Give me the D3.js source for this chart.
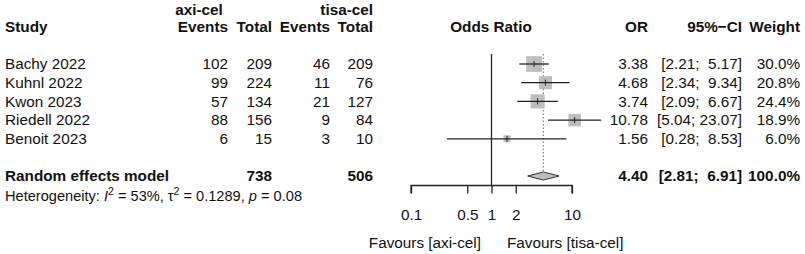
<!DOCTYPE html>
<html>
<head>
<meta charset="utf-8">
<script src="https://cdn.jsdelivr.net/npm/d3@7"></script>
<style>
  body { margin: 0; background: #fff; }
  svg text { font-family: "Liberation Sans", Arial, sans-serif; font-size: 15.3px; fill: #111; white-space: pre; }
</style>
</head>
<body>
<svg width="805" height="254"></svg>
<script>
const studies = ["Bachy 2022", "Kuhnl 2022", "Kwon 2023", "Riedell 2022", "Benoit 2023"];
const axiEvents = [102, 99, 57, 88, 6];
const axiTotal = [209, 224, 134, 156, 15];
const tisaEvents = [46, 11, 21, 9, 3];
const tisaTotal = [209, 76, 127, 84, 10];
const oddsRatio = [3.38, 4.68, 3.74, 10.78, 1.56];
const ciLow = [2.21, 2.34, 2.09, 5.04, 0.28];
const ciHigh = [5.17, 9.34, 6.67, 23.07, 8.53];
const weights = [30.0, 20.8, 24.4, 18.9, 6.0];
const pooled = { label: "Random effects model", axiTotal: 738, tisaTotal: 506, or: 4.40, lo: 2.81, hi: 6.91, weight: 100.0 };
const tickValues = [0.1, 0.5, 1, 2, 10];

const svg = d3.select("svg");

let x = d3.scaleLog().domain([0.1, 10]).range([411, 572]);
let boxSize = d3.scaleSqrt().domain([0, 30]).range([0, 15.7]);
let rowY = d3.scaleLinear().domain([0, 1]).range([64, 82.7]);
const pooledY = 176;
const axisY = 185.5;

let data = studies.map((s, i) => ({
  study: s, ae: axiEvents[i], at: axiTotal[i], te: tisaEvents[i], tt: tisaTotal[i],
  or: oddsRatio[i], lo: ciLow[i], hi: ciHigh[i], w: weights[i]
}));

const fmtCI = (lo, hi) => "[" + lo.toFixed(2).padStart(4) + "; " + hi.toFixed(2).padStart(5) + "]";

function txt(xp, yp, s, anchor, bold) {
  return svg.append("text").attr("x", xp).attr("y", yp).attr("dy", "0.35em")
    .attr("text-anchor", anchor || "start")
    .style("font-weight", bold ? "bold" : "normal")
    .text(s);
}

// headers
txt(199, 9.5, "axi-cel", "middle", true);
txt(373, 9.5, "tisa-cel", "end", true);
txt(5, 27, "Study", "start", true);
txt(228, 27, "Events", "end", true);
txt(272, 27, "Total", "end", true);
txt(330, 27, "Events", "end", true);
txt(373, 27, "Total", "end", true);
txt(491, 27, "Odds Ratio", "middle", true);
txt(648, 27, "OR", "end", true);
txt(742, 27, "95%\u2212CI", "end", true);
txt(800, 27, "Weight", "end", true);

// study rows
let rows = svg.append("g").selectAll("g")
  .data(data)
  .join("g")
  .attr("transform", (d, i) => `translate(0, ${rowY(i)})`);

rows.append("text").attr("x", 5).attr("dy", "0.35em").text(d => d.study);
rows.append("text").attr("x", 228).attr("dy", "0.35em").attr("text-anchor", "end").text(d => d.ae);
rows.append("text").attr("x", 272).attr("dy", "0.35em").attr("text-anchor", "end").text(d => d.at);
rows.append("text").attr("x", 330).attr("dy", "0.35em").attr("text-anchor", "end").text(d => d.te);
rows.append("text").attr("x", 373).attr("dy", "0.35em").attr("text-anchor", "end").text(d => d.tt);
rows.append("text").attr("x", 648).attr("dy", "0.35em").attr("text-anchor", "end").text(d => d.or.toFixed(2));
rows.append("text").attr("x", 742).attr("dy", "0.35em").attr("text-anchor", "end").text(d => fmtCI(d.lo, d.hi));
rows.append("text").attr("x", 800).attr("dy", "0.35em").attr("text-anchor", "end").text(d => d.w.toFixed(1) + "%");

// pooled row
txt(5, pooledY, pooled.label, "start", true);
txt(272, pooledY, pooled.axiTotal, "end", true);
txt(373, pooledY, pooled.tisaTotal, "end", true);
txt(648, pooledY, pooled.or.toFixed(2), "end", true);
txt(742, pooledY, fmtCI(pooled.lo, pooled.hi), "end", true);
txt(800, pooledY, pooled.weight.toFixed(1) + "%", "end", true);

// heterogeneity
let het = svg.append("text").attr("x", 5).attr("y", 195.5).attr("dy", "0.35em").style("font-size", "14.6px");
het.append("tspan").text("Heterogeneity: ");
het.append("tspan").style("font-style", "italic").text("I");
het.append("tspan").attr("dy", -6).style("font-size", "10.5px").text("2");
het.append("tspan").attr("dy", 6).text(" = 53%, \u03c4");
het.append("tspan").attr("dy", -6).style("font-size", "10.5px").text("2");
het.append("tspan").attr("dy", 6).text(" = 0.1289, ");
het.append("tspan").style("font-style", "italic").text("p");
het.append("tspan").text(" = 0.08");

// null line and pooled dotted line
svg.append("line")
  .attr("x1", x(1)).attr("x2", x(1)).attr("y1", 54).attr("y2", axisY)
  .style("stroke", "#222").style("stroke-width", 1.3);
svg.append("line")
  .attr("x1", x(pooled.or)).attr("x2", x(pooled.or)).attr("y1", 54).attr("y2", pooledY - 4)
  .style("stroke", "#666").style("stroke-width", 1).style("stroke-dasharray", "1.5,2");

let marks = svg.append("g").selectAll("g")
  .data(data)
  .join("g")
  .attr("transform", (d, i) => `translate(0, ${rowY(i)})`);

marks.append("rect")
  .attr("x", d => x(d.or) - boxSize(d.w) / 2)
  .attr("y", d => -boxSize(d.w) / 2)
  .attr("width", d => boxSize(d.w))
  .attr("height", d => boxSize(d.w))
  .style("fill", "#bebebe");
marks.append("line")
  .attr("x1", d => x(d.lo)).attr("x2", d => x(d.hi))
  .style("stroke", "#222").style("stroke-width", 1.3);
marks.append("line")
  .attr("x1", d => x(d.or)).attr("x2", d => x(d.or)).attr("y1", -3).attr("y2", 3)
  .style("stroke", "#222").style("stroke-width", 1);

// diamond
svg.append("path")
  .attr("d", `M${x(pooled.lo)},${pooledY} L${x(pooled.or)},${pooledY - 4} L${x(pooled.hi)},${pooledY} L${x(pooled.or)},${pooledY + 4} Z`)
  .style("fill", "#bebebe").style("stroke", "#333").style("stroke-width", 1);

// axis
let axis = d3.axisBottom(x).tickValues(tickValues).tickSize(8).tickFormat(d => d);
let ax = svg.append("g").attr("transform", `translate(0, ${axisY})`).call(axis);
ax.select(".domain").attr("d", `M${x(0.1)},8V0H${x(10)}V8`).style("stroke", "#222").style("stroke-width", 1.3);
ax.selectAll(".tick line").style("stroke", "#222").style("stroke-width", 1.3);
ax.selectAll(".tick text").attr("y", 29.5).attr("dy", "0.35em")
  .style("font-family", "'Liberation Sans', Arial, sans-serif").style("font-size", "15.3px").style("fill", "#111");

txt(481, 243, "Favours [axi-cel]", "end", false);
txt(507, 243, "Favours [tisa-cel]", "start", false);
</script>
</body>
</html>
